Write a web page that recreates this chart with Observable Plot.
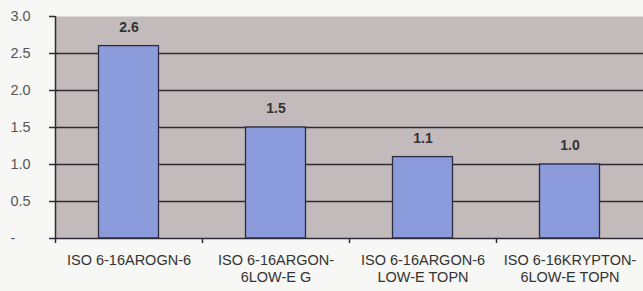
<!DOCTYPE html>
<html>
<head>
<meta charset="utf-8">
<script src="https://cdn.jsdelivr.net/npm/d3@7"></script>
<script src="https://cdn.jsdelivr.net/npm/@observablehq/plot@0.6"></script>
<style>
  html, body { margin: 0; padding: 0; background: #f7f7f5; }
  #chart svg { display: block; }
</style>
</head>
<body>
<div id="chart"></div>
<script>
const categories = [
  "ISO 6-16AROGN-6",
  "ISO 6-16ARGON-\n6LOW-E G",
  "ISO 6-16ARGON-6\nLOW-E TOPN",
  "ISO 6-16KRYPTON-\n6LOW-E TOPN"
];
const values = [2.6, 1.5, 1.1, 1.0];
const yTicks = [0, 0.5, 1.0, 1.5, 2.0, 2.5, 3.0];
const gridValues = [0.5, 1.0, 1.5, 2.0, 2.5];

const data = categories.map((c, i) => ({category: c, value: values[i]}));

const chart = Plot.plot({
  width: 643,
  height: 291,
  marginLeft: 55,
  marginRight: 0,
  marginTop: 16,
  marginBottom: 53,
  style: {background: "#f7f7f5", fontFamily: "Liberation Sans, Arial, sans-serif"},
  x: {domain: categories, padding: 0, label: null},
  y: {domain: [0, 3], label: null},
  marks: [
    Plot.frame({fill: "#c3bbbb", stroke: null}),
    Plot.ruleY(gridValues, {stroke: "#2e2a33", strokeWidth: 1.6}),
    Plot.barY(data, {x: "category", y: "value", fill: "#8b9bdb", stroke: "#2e2a40", strokeWidth: 1.3, insetLeft: 43.5, insetRight: 43.5}),
    Plot.ruleY([0], {stroke: "#2e2a33", strokeWidth: 1.6}),
    Plot.ruleX(categories, {x: d => d, dx: -73.5, y1: 0, y2: 0, insetBottom: -5, stroke: "#2e2a33", strokeWidth: 1.5}),
    Plot.ruleX(categories.slice(0, 1), {x: d => d, dx: -73.5, y1: 0, y2: 3, stroke: "#2e2a33", strokeWidth: 1.5}),
    Plot.text(data, {x: "category", y: "value", text: d => d.value.toFixed(1), dy: -19, fontWeight: "bold", fontSize: 14, fill: "#333", letterSpacing: 1.2}),
    Plot.axisY({ticks: yTicks, tickSize: 6, stroke: "#2e2a33", strokeWidth: 1.5, tickFormat: () => "", label: null}),
    Plot.axisY({ticks: yTicks, tickSize: 0, fill: "#555", fontSize: 14.5, letterSpacing: 1.2, tickFormat: d => d === 0 ? "-" : d.toFixed(1), textAnchor: "start", tickPadding: 0, dx: -45, label: null}),
    Plot.axisX({tickSize: 0, tickPadding: 14, fontSize: 14.5, fill: "#333", lineHeight: 1.2, letterSpacing: -0.4, lineAnchor: "top", label: null})
  ]
});
document.getElementById("chart").appendChild(chart);
</script>
</body>
</html>
